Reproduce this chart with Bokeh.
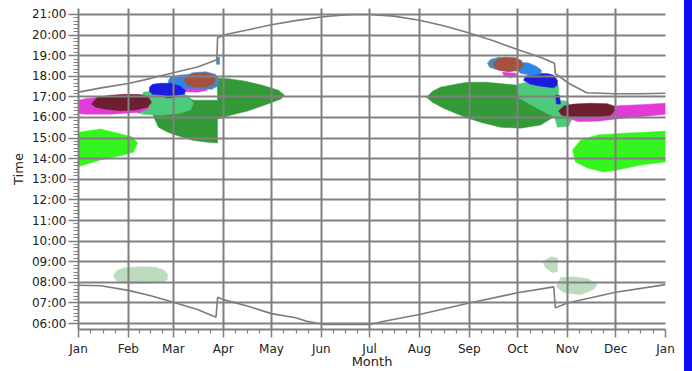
from bokeh.plotting import figure
from bokeh.models import Range1d, FixedTicker, Div
from bokeh.layouts import row
from bokeh.embed import file_html
from bokeh.resources import INLINE

# ---------------- axis data ----------------
month_days = [0, 31, 59, 90, 120, 151, 181, 212, 243, 273, 304, 334, 365]
month_labels = ["Jan", "Feb", "Mar", "Apr", "May", "Jun", "Jul", "Aug", "Sep", "Oct", "Nov", "Dec", "Jan"]
hour_ticks = [6, 7, 8, 9, 10, 11, 12, 13, 14, 15, 16, 17, 18, 19, 20, 21]
hour_labels = ["06:00", "07:00", "08:00", "09:00", "10:00", "11:00", "12:00", "13:00",
               "14:00", "15:00", "16:00", "17:00", "18:00", "19:00", "20:00", "21:00"]

# ---------------- sunset / sunrise (day of year, hour) ----------------
sunset_day = [0, 15, 31, 45, 59, 74, 86, 86.5, 93, 105, 120, 135, 151, 165, 172, 181, 196, 212,
              227, 243, 258, 273, 288, 296, 296.5, 305, 316, 334, 350, 365]
sunset_hour = [17.23, 17.45, 17.65, 17.90, 18.17, 18.45, 18.80, 19.88, 20.05, 20.25, 20.50, 20.70,
               20.88, 20.98, 21.00, 21.00, 20.92, 20.72, 20.45, 20.10, 19.72, 19.30, 18.90, 18.63,
               18.13, 17.65, 17.20, 17.15, 17.15, 17.18]

sunrise_day = [0, 14, 31, 45, 59, 74, 85.5, 86.5, 90, 105, 120, 135, 142, 153, 181, 190, 212, 243,
               273, 295.5, 296.5, 304, 334, 365]
sunrise_hour = [7.86, 7.83, 7.61, 7.35, 7.03, 6.68, 6.31, 7.27, 7.16, 6.85, 6.48, 6.28, 6.11, 5.95,
                5.95, 6.11, 6.44, 7.00, 7.49, 7.78, 6.76, 7.00, 7.52, 7.89]

# ---------------- glare areas (outline vertices: day, hour) ----------------
bright_green_l_day = [0, 1.2, 13.7, 24.3, 33.6, 36.7, 34.2, 28.0, 13.7, 1.2, 0]
bright_green_l_hour = [15.29, 15.29, 15.44, 15.24, 15.05, 14.76, 14.32, 14.18, 13.94, 13.65, 13.65]

bright_green_r_day = [307.2, 312.2, 322.7, 338.9, 355.7, 365, 365, 349.5, 335.2, 326.4, 316.5, 309.0]
bright_green_r_hour = [14.42, 14.90, 15.15, 15.24, 15.29, 15.34, 13.84, 13.69, 13.45, 13.36, 13.55, 13.84]

pale_green_l_day = [21.8, 23.6, 28.6, 38.6, 47.9, 52.9, 55.3, 55.3, 51.0, 38.6, 29.2, 23.6]
pale_green_l_hour = [8.32, 8.56, 8.71, 8.76, 8.73, 8.61, 8.42, 8.13, 7.98, 7.94, 7.94, 8.08]

pale_green_ru_day = [290.4, 294.1, 297.8, 297.8, 294.7, 290.4, 289.1]
pale_green_ru_hour = [9.10, 9.24, 9.19, 8.52, 8.47, 8.71, 8.90]

pale_green_rl_day = [299.7, 307.8, 316.5, 322.7, 320.2, 312.2, 301.6, 297.2]
pale_green_rl_hour = [8.23, 8.27, 8.18, 7.89, 7.65, 7.40, 7.50, 7.79]

dark_green_l_day = [43.5, 46.6, 49.7, 55.3, 60.3, 70.9, 79.0, 86.4, 86.4, 94.5, 105.1, 117.5, 125.6,
                    128.1, 124.4, 114.4, 103.8, 93.3, 86.4, 86.4, 71.5, 66.5, 51.0]
dark_green_l_hour = [16.65, 16.06, 15.53, 15.29, 15.15, 14.90, 14.81, 14.76, 15.92, 16.11, 16.31, 16.65,
                     16.89, 17.08, 17.32, 17.56, 17.76, 17.88, 17.90, 16.84, 16.84, 17.03, 17.03]

medium_green_l_day = [36.7, 38.6, 40.4, 47.9, 56.0, 63.4, 68.4, 71.5, 69.6, 62.2, 51.0, 41.7]
medium_green_l_hour = [16.21, 16.94, 17.23, 17.30, 17.32, 17.23, 17.03, 16.69, 16.36, 16.19, 16.11, 16.14]

magenta_l_day = [0, 4.4, 13.7, 32.3, 43.5, 43.5, 38.6, 19.9, 4.4, 0]
magenta_l_hour = [16.84, 16.91, 16.98, 16.98, 16.69, 16.45, 16.26, 16.16, 16.16, 16.19]

maroon_l_day = [8.1, 11.8, 19.9, 29.2, 38.6, 43.5, 45.4, 42.9, 35.4, 26.1, 16.8, 10.6]
maroon_l_hour = [16.65, 16.98, 17.08, 17.13, 17.11, 16.98, 16.74, 16.50, 16.36, 16.33, 16.40, 16.50]

magenta_sl_day = [65.3, 79.0, 80.2, 74.0, 66.5]
magenta_sl_hour = [17.44, 17.47, 17.32, 17.23, 17.25]

light_blue_l_day = [56.0, 57.2, 62.2, 69.6, 79.0, 83.9, 85.2, 83.3, 75.9, 66.5, 60.3, 56.0]
light_blue_l_hour = [17.81, 17.95, 18.05, 18.10, 18.10, 17.90, 17.56, 17.37, 17.42, 17.42, 17.52, 17.61]

blue_l_day = [44.1, 46.0, 51.0, 57.2, 63.4, 66.5, 65.9, 60.3, 58.5, 54.7, 52.9, 46.0, 44.1]
blue_l_hour = [17.47, 17.61, 17.66, 17.66, 17.52, 17.32, 17.13, 17.08, 16.96, 16.96, 17.08, 17.13, 17.27]

steel_blue_l_day = [66.0, 70.5, 79.0, 85.2, 87.7, 86.4, 82.1, 74.0, 68.0]
steel_blue_l_hour = [17.86, 18.17, 18.22, 18.10, 17.81, 17.50, 17.38, 17.42, 17.56]

brown_l_day = [65.3, 67.8, 72.8, 79.0, 83.3, 85.2, 83.9, 79.0, 72.8, 67.8]
brown_l_hour = [17.81, 18.05, 18.15, 18.15, 18.05, 17.86, 17.61, 17.47, 17.47, 17.56]

steel_blue_s_day = [85.8, 87.7, 87.7, 85.8]
steel_blue_s_hour = [18.92, 18.92, 18.58, 18.58]

dark_green_r_day = [216.4, 220.1, 225.1, 234.4, 241.9, 253.1, 260.5, 273.0, 287.3, 297.8, 297.8, 295.4,
                    287.3, 274.8, 262.4, 250.0, 241.9, 234.4, 227.0, 220.1]
dark_green_r_hour = [16.98, 17.27, 17.47, 17.61, 17.71, 17.71, 17.66, 17.56, 17.42, 17.08, 16.26, 16.02,
                     15.63, 15.48, 15.53, 15.77, 15.97, 16.21, 16.45, 16.74]

medium_green_r_day = [273.0, 281.1, 295.4, 298.5, 298.5, 303.5, 306.6, 307.2, 304.7, 297.8, 296.0, 287.3, 273.0]
medium_green_r_hour = [17.61, 17.76, 17.76, 17.52, 16.84, 16.79, 16.55, 15.97, 15.58, 15.53, 16.02, 16.36, 16.98]

magenta_r_day = [304.7, 324.6, 335.2, 349.5, 365, 365, 349.5, 335.2, 322.7, 310.3, 304.7]
magenta_r_hour = [16.26, 16.45, 16.57, 16.62, 16.69, 16.16, 16.04, 15.94, 15.82, 15.80, 15.97]

maroon_r_day = [298.5, 301.6, 307.8, 318.4, 328.9, 333.3, 333.9, 330.8, 324.6, 315.3, 305.9, 300.4]
maroon_r_hour = [16.31, 16.55, 16.65, 16.69, 16.67, 16.55, 16.36, 16.11, 16.04, 16.02, 16.02, 16.11]

blue_r_day = [276.7, 278.0, 285.4, 292.3, 295.4, 297.8, 297.8, 295.4, 287.3, 281.1]
blue_r_hour = [17.81, 18.00, 18.15, 18.12, 18.05, 17.81, 17.56, 17.44, 17.52, 17.61]

blue_sr_day = [296.6, 299.1, 299.7, 297.2]
blue_sr_hour = [17.08, 17.08, 16.65, 16.65]

magenta_sr_day = [263.6, 271.7, 273.6, 268.6, 264.3]
magenta_sr_hour = [18.19, 18.15, 18.00, 17.93, 18.05]

light_blue_r_day = [270.5, 273.6, 279.9, 284.8, 287.9, 287.3, 281.1, 274.8]
light_blue_r_hour = [18.48, 18.68, 18.65, 18.48, 18.29, 18.10, 18.05, 18.15]

steel_blue_r_day = [254.3, 256.2, 261.2, 271.7, 276.1, 274.8, 267.4, 259.3, 255.6]
steel_blue_r_hour = [18.63, 18.82, 18.92, 18.87, 18.63, 18.34, 18.24, 18.34, 18.44]

brown_r_day = [258.1, 260.5, 265.5, 271.7, 275.4, 276.7, 274.2, 267.4, 261.2, 258.7]
brown_r_hour = [18.63, 18.82, 18.92, 18.90, 18.77, 18.53, 18.29, 18.22, 18.29, 18.44]

BRIGHT_GREEN = "#35f51e"
PALE_GREEN = "#bddcbd"
DARK_GREEN = "#339a37"
MEDIUM_GREEN = "#4dcb7b"
MAGENTA = "#e33ad8"
MAROON = "#6e1f2f"
BLUE = "#1c1ce0"
LIGHT_BLUE = "#2c86ea"
STEEL_BLUE = "#4a88b8"
BROWN = "#a5513f"
GRAY = "#808080"

areas = [
    (bright_green_l_day, bright_green_l_hour, BRIGHT_GREEN),
    (bright_green_r_day, bright_green_r_hour, BRIGHT_GREEN),
    (pale_green_l_day, pale_green_l_hour, PALE_GREEN),
    (pale_green_ru_day, pale_green_ru_hour, PALE_GREEN),
    (pale_green_rl_day, pale_green_rl_hour, PALE_GREEN),
    (dark_green_l_day, dark_green_l_hour, DARK_GREEN),
    (medium_green_l_day, medium_green_l_hour, MEDIUM_GREEN),
    (magenta_l_day, magenta_l_hour, MAGENTA),
    (maroon_l_day, maroon_l_hour, MAROON),
    (magenta_sl_day, magenta_sl_hour, MAGENTA),
    (light_blue_l_day, light_blue_l_hour, LIGHT_BLUE),
    (blue_l_day, blue_l_hour, BLUE),
    (steel_blue_l_day, steel_blue_l_hour, STEEL_BLUE),
    (brown_l_day, brown_l_hour, BROWN),
    (steel_blue_s_day, steel_blue_s_hour, STEEL_BLUE),
    (dark_green_r_day, dark_green_r_hour, DARK_GREEN),
    (medium_green_r_day, medium_green_r_hour, MEDIUM_GREEN),
    (magenta_r_day, magenta_r_hour, MAGENTA),
    (maroon_r_day, maroon_r_hour, MAROON),
    (blue_r_day, blue_r_hour, BLUE),
    (blue_sr_day, blue_sr_hour, BLUE),
    (magenta_sr_day, magenta_sr_hour, MAGENTA),
    (light_blue_r_day, light_blue_r_hour, LIGHT_BLUE),
    (steel_blue_r_day, steel_blue_r_hour, STEEL_BLUE),
    (brown_r_day, brown_r_hour, BROWN),
]

p = figure(width=684, height=371,
           x_range=Range1d(0, 365), y_range=Range1d(5.71, 21.29),
           output_backend="svg", toolbar_location=None,
           min_border_left=78, min_border_right=19, min_border_top=8, min_border_bottom=41,
           background_fill_color="white", border_fill_color="white", outline_line_color=None)

for xs, ys, col in areas:
    p.patch(xs, ys, fill_color=col, line_color=col, line_width=0.5)

p.line(sunset_day, sunset_hour, line_color="#7c7c7c", line_width=1.6)
p.line(sunrise_day, sunrise_hour, line_color="#7c7c7c", line_width=1.6)

# minor tick positions (quarter months, 10 minutes)
minor_x = []
for i in range(len(month_days) - 1):
    a, b = month_days[i], month_days[i + 1]
    minor_x += [a + (b - a) * k / 4 for k in (1, 2, 3)]
minor_y = []
for h in hour_ticks[:-1]:
    minor_y += [h + k / 6 for k in (1, 2, 3, 4, 5)]

p.xaxis.ticker = FixedTicker(ticks=month_days, minor_ticks=minor_x)
p.yaxis.ticker = FixedTicker(ticks=hour_ticks, minor_ticks=minor_y)
p.xaxis.major_label_overrides = {d: l for d, l in zip(month_days, month_labels)}
p.yaxis.major_label_overrides = {h: l for h, l in zip(hour_ticks, hour_labels)}

for ax in (p.xaxis[0], p.yaxis[0]):
    ax.axis_line_color = GRAY
    ax.axis_line_width = 2
    ax.major_tick_line_color = GRAY
    ax.major_tick_line_width = 1.5
    ax.minor_tick_line_color = GRAY
    ax.minor_tick_line_width = 1.2
    ax.major_tick_in = 0
    ax.minor_tick_in = 0
    ax.major_label_text_font = "DejaVu Sans"
    ax.major_label_text_font_size = "12px"
    ax.major_label_text_color = "#222222"
    ax.axis_label_text_font = "DejaVu Sans"
    ax.axis_label_text_font_size = "13px"
    ax.axis_label_text_font_style = "normal"
    ax.axis_label_text_color = "#222222"

p.xaxis.axis_label = "Month"
p.yaxis.axis_label = "Time"
p.xaxis.major_tick_out = 8
p.xaxis.minor_tick_out = 4
p.xaxis.major_label_standoff = 4
p.xaxis.axis_label_standoff = -5
p.yaxis.major_tick_out = 10
p.yaxis.minor_tick_out = 5
p.yaxis.major_label_standoff = 2
p.yaxis.axis_label_standoff = 3

p.xgrid.ticker = FixedTicker(ticks=month_days)
p.ygrid.ticker = FixedTicker(ticks=hour_ticks)
for g in (p.xgrid[0], p.ygrid[0]):
    g.grid_line_color = GRAY
    g.grid_line_width = 2
    g.level = "guide"

bar = Div(text="", width=8, height=371, margin=(0, 0, 0, 0),
          styles={"background-color": "#0c0cf2"})

layout = row(p, bar)
open("out.html", "w").write(file_html(layout, INLINE))
